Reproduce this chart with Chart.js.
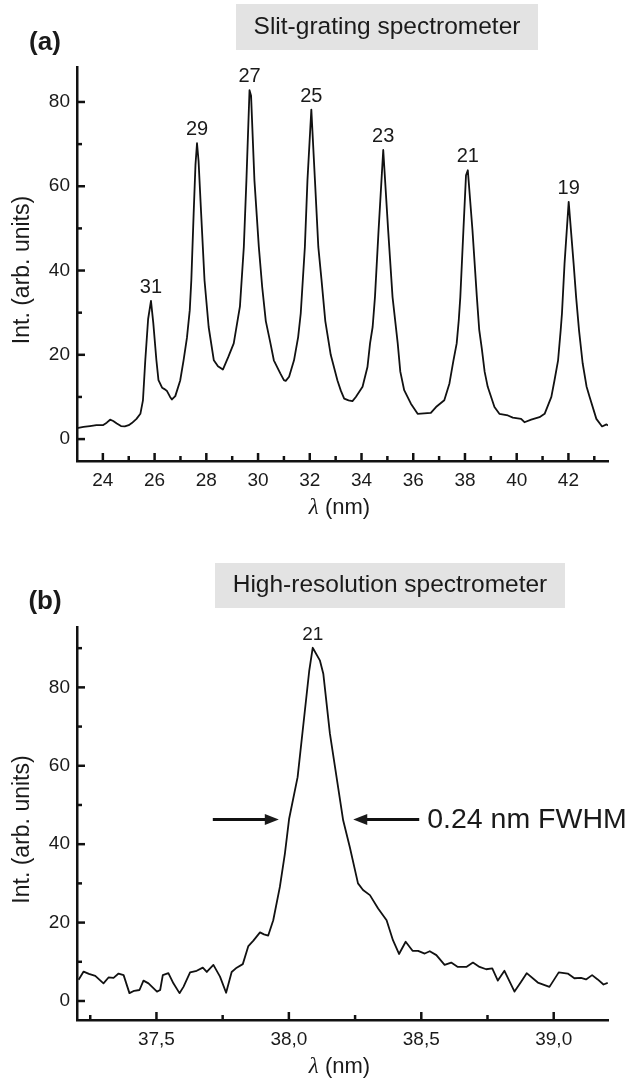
<!DOCTYPE html>
<html>
<head>
<meta charset="utf-8">
<script src="https://cdn.jsdelivr.net/npm/chart.js@4.4.0/dist/chart.umd.min.js"></script>
<style>
  body { margin: 0; background: #fff; width: 639px; height: 1085px; overflow: hidden; }
  .panel { position: absolute; left: 0; width: 639px; }
</style>
</head>
<body>
<div class="panel" style="top:0;height:540px"><canvas id="chartA"></canvas></div>
<div class="panel" style="top:540px;height:545px"><canvas id="chartB"></canvas></div>
<script>
var FONT = "'Liberation Sans', Arial, Helvetica, sans-serif";
Chart.defaults.font.family = FONT;
Chart.defaults.color = '#1a1a1a';

// (a) slit-grating spectrometer
var lambdaA = [23.0, 23.25, 23.5, 23.75, 24.0, 24.15, 24.28, 24.4, 24.54, 24.7, 24.85, 25.0, 25.12, 25.3, 25.45,
  25.55, 25.64, 25.75, 25.86, 25.95, 26.07, 26.15, 26.29, 26.4, 26.48, 26.6, 26.67, 26.8, 26.99, 27.12,
  27.25, 27.36, 27.42, 27.51, 27.58, 27.64, 27.7, 27.8, 27.93, 28.09, 28.29, 28.45, 28.64, 28.85, 29.06,
  29.22, 29.3, 29.45, 29.55, 29.67, 29.73, 29.86, 30.03, 30.16, 30.3, 30.48, 30.61, 30.86, 31.0, 31.07,
  31.2, 31.39, 31.55, 31.65, 31.81, 31.91, 32.06, 32.2, 32.33, 32.45, 32.6, 32.81, 33.07, 33.2, 33.33,
  33.5, 33.65, 33.78, 34.04, 34.23, 34.33, 34.43, 34.52, 34.66, 34.84, 35.03, 35.2, 35.4, 35.5, 35.65,
  35.91, 36.17, 36.42, 36.68, 36.88, 37.2, 37.4, 37.55, 37.68, 37.76, 37.82, 37.94, 38.04, 38.11, 38.29,
  38.46, 38.55, 38.65, 38.76, 38.88, 39.14, 39.33, 39.66, 39.85, 40.17, 40.3, 40.56, 40.88, 41.08, 41.34,
  41.46, 41.6, 41.7, 41.75, 41.85, 42.01, 42.2, 42.3, 42.41, 42.55, 42.7, 42.82, 43.08, 43.3, 43.47, 43.53];
var intA = [2.6, 2.9, 3.1, 3.3, 3.3, 3.9, 4.6, 4.3, 3.7, 3.1, 3.0, 3.3, 3.8, 4.8, 6.0,
  9.2, 18.7, 28.5, 32.8, 27.5, 18.7, 14.0, 12.2, 11.8, 11.4, 10.0, 9.4, 10.2, 13.9, 18.7,
  24.0, 30.6, 37.7, 53.5, 65.0, 70.2, 66.0, 53.5, 37.7, 26.6, 18.7, 17.3, 16.5, 19.5, 22.7,
  28.6, 31.5, 45.6, 61.4, 82.8, 81.5, 61.4, 45.6, 36.1, 28.0, 22.7, 18.7, 15.6, 14.0, 13.8,
  14.8, 18.7, 24.2, 29.8, 45.6, 61.4, 78.2, 61.4, 45.6, 38.0, 28.0, 20.0, 13.9, 11.5, 9.6,
  9.2, 9.0, 10.0, 12.4, 17.1, 22.7, 26.6, 33.7, 49.6, 68.6, 49.6, 33.7, 22.7, 16.0, 11.6,
  8.4, 6.0, 6.1, 6.2, 7.6, 9.2, 13.2, 18.5, 22.7, 28.2, 33.7, 49.6, 62.6, 63.8, 49.6,
  33.7, 26.0, 21.5, 16.0, 12.4, 7.6, 6.0, 5.6, 5.1, 4.8, 4.0, 4.6, 5.2, 6.0, 10.0,
  13.9, 18.7, 25.8, 29.8, 41.7, 56.3, 41.7, 33.5, 25.8, 18.0, 12.5, 10.0, 4.8, 3.0, 3.5, 3.2];
var xTicksA = [24, 26, 28, 30, 32, 34, 36, 38, 40, 42];
var xMinorA = [25, 27, 29, 31, 33, 35, 37, 39, 41, 43];
var yTicksA = [0, 20, 40, 60, 80];
var yMinorA = [10, 30, 50, 70];
var ordersA = ['31', '29', '27', '25', '23', '21', '19'];
var orderPosA = [25.86, 27.64, 29.67, 32.06, 34.84, 38.11, 42.01];

// (b) high-resolution spectrometer
var lambdaB = [37.206, 37.225, 37.245, 37.269, 37.300, 37.319, 37.338, 37.357, 37.376, 37.398, 37.416, 37.436,
  37.451, 37.470, 37.502, 37.514, 37.524, 37.545, 37.564, 37.587, 37.602, 37.627, 37.652, 37.675, 37.690,
  37.715, 37.740, 37.763, 37.784, 37.803, 37.826, 37.847, 37.866, 37.891, 37.906, 37.922, 37.941, 37.966,
  37.985, 38.001, 38.033, 38.077, 38.090, 38.117, 38.130, 38.155, 38.205, 38.230, 38.261, 38.280, 38.306,
  38.337, 38.369, 38.393, 38.416, 38.441, 38.467, 38.488, 38.513, 38.532, 38.557, 38.588, 38.613, 38.638,
  38.670, 38.695, 38.720, 38.745, 38.768, 38.789, 38.814, 38.852, 38.877, 38.898, 38.940, 38.984, 39.019,
  39.053, 39.078, 39.103, 39.122, 39.145, 39.166, 39.188, 39.204];
var intB = [5.4, 7.5, 6.9, 6.4, 4.5, 6.0, 5.9, 7.0, 6.6, 2.0, 2.6, 2.8,
  5.2, 4.5, 2.4, 2.8, 6.6, 7.1, 4.5, 2.0, 3.6, 7.3, 7.7, 8.5, 7.4,
  9.2, 6.2, 2.1, 7.4, 8.5, 9.4, 14.0, 15.4, 17.5, 17.0, 16.7, 20.6, 29.1,
  37.6, 46.5, 57.1, 84.3, 90.1, 86.9, 83.5, 68.2, 46.1, 39.3, 30.0, 28.3, 27.0,
  23.6, 20.6, 15.5, 12.0, 15.1, 12.8, 12.8, 12.1, 12.7, 11.7, 9.2, 9.8, 8.7,
  8.7, 9.8, 8.7, 8.1, 8.3, 5.2, 7.7, 2.4, 4.9, 7.1, 4.7, 3.6, 7.3,
  7.0, 5.8, 5.9, 5.5, 6.6, 5.5, 4.2, 4.6];
var xTicksB = [37.5, 38.0, 38.5, 39.0];
var xMinorB = [37.25, 37.75, 38.25, 38.75];
var yTicksB = [0, 20, 40, 60, 80];
var yMinorB = [10, 30, 50, 70, 90];
var ordersB = ['21'];
var orderPosB = [38.09];
var fwhmLabel = '0.24 nm FWHM';
var fwhmTips = [37.962, 38.243];
var fwhmLevel = 46.3;

function toPoints(xs, ys) {
  return xs.map(function (x, i) { return { x: x, y: ys[i] }; });
}

// inward ticks, panel title box, letters, axis titles, order labels
var decor = {
  id: 'decor',
  afterDraw: function (chart, args, o) {
    var ctx = chart.ctx, a = chart.chartArea, xs = chart.scales.x, ys = chart.scales.y;
    var data = chart.data.datasets[0].data;
    ctx.save();
    ctx.strokeStyle = '#111';
    ctx.lineWidth = 2.5;
    function xt(v, len) {
      var p = xs.getPixelForValue(v);
      ctx.beginPath(); ctx.moveTo(p, a.bottom); ctx.lineTo(p, a.bottom - len); ctx.stroke();
    }
    function yt(v, len) {
      var p = ys.getPixelForValue(v);
      ctx.beginPath(); ctx.moveTo(a.left, p); ctx.lineTo(a.left + len, p); ctx.stroke();
    }
    o.xMajor.forEach(function (v) { xt(v, 8); });
    o.xMinor.forEach(function (v) { xt(v, 5); });
    o.yMajor.forEach(function (v) { yt(v, 8); });
    o.yMinor.forEach(function (v) { yt(v, 5); });

    // title box
    ctx.fillStyle = '#e3e3e3';
    ctx.fillRect(o.box[0], o.box[1], o.box[2], o.box[3]);
    ctx.fillStyle = '#1a1a1a';
    ctx.font = '24.5px ' + FONT;
    ctx.textAlign = 'center';
    ctx.textBaseline = 'middle';
    ctx.fillText(o.title, o.box[0] + o.box[2] / 2, o.box[1] + o.box[3] / 2);

    // panel letter
    ctx.font = 'bold 26px ' + FONT;
    ctx.fillText(o.letter, 45, o.letterY);

    // order labels above peaks
    ctx.font = o.orderSize + 'px ' + FONT;
    ctx.textBaseline = 'alphabetic';
    o.orders.forEach(function (t, i) {
      var best = data[0];
      data.forEach(function (d) { if (Math.abs(d.x - o.orderPos[i]) < Math.abs(best.x - o.orderPos[i])) best = d; });
      ctx.fillText(t, xs.getPixelForValue(best.x), ys.getPixelForValue(best.y) - 8);
    });

    // y axis title
    ctx.save();
    ctx.translate(23, (a.top + a.bottom) / 2 + 6);
    ctx.rotate(-Math.PI / 2);
    ctx.font = '23px ' + FONT;
    ctx.textBaseline = 'middle';
    ctx.fillText('Int. (arb. units)', 0, 0);
    ctx.restore();

    // x axis title: italic lambda + (nm)
    var lam = '\u03bb', rest = ' (nm)';
    ctx.font = 'italic 23px "Liberation Serif", "Times New Roman", serif';
    var w1 = ctx.measureText(lam).width;
    ctx.font = '22px ' + FONT;
    var w2 = ctx.measureText(rest).width;
    var cx = (a.left + a.right) / 2 - 3, ty = a.bottom + 47;
    ctx.textAlign = 'left';
    ctx.textBaseline = 'middle';
    ctx.font = 'italic 23px "Liberation Serif", "Times New Roman", serif';
    ctx.fillText(lam, cx - (w1 + w2) / 2, ty);
    ctx.font = '22px ' + FONT;
    ctx.fillText(rest, cx - (w1 + w2) / 2 + w1, ty);

    // FWHM arrows
    if (o.fwhm) {
      var yy = ys.getPixelForValue(o.fwhm.level);
      var l = xs.getPixelForValue(o.fwhm.tips[0]), r = xs.getPixelForValue(o.fwhm.tips[1]);
      ctx.lineWidth = 3;
      ctx.beginPath(); ctx.moveTo(l - 66, yy); ctx.lineTo(l - 10, yy); ctx.stroke();
      ctx.beginPath(); ctx.moveTo(l, yy); ctx.lineTo(l - 14, yy - 5.5); ctx.lineTo(l - 14, yy + 5.5); ctx.closePath(); ctx.fill();
      ctx.beginPath(); ctx.moveTo(r + 10, yy); ctx.lineTo(r + 66, yy); ctx.stroke();
      ctx.beginPath(); ctx.moveTo(r, yy); ctx.lineTo(r + 14, yy - 5.5); ctx.lineTo(r + 14, yy + 5.5); ctx.closePath(); ctx.fill();
      ctx.font = '28.5px ' + FONT;
      ctx.textAlign = 'left';
      ctx.textBaseline = 'middle';
      ctx.fillText(o.fwhm.text, r + 74, yy + 1);
    }
    ctx.restore();
  }
};

function makeChart(id, pts, cfg) {
  return new Chart(document.getElementById(id), {
    type: 'line',
    data: {
      datasets: [{
        data: pts,
        borderColor: '#111',
        borderWidth: 1.8,
        borderJoinStyle: 'round',
        pointRadius: 0,
        tension: 0,
        fill: false
      }]
    },
    options: {
      responsive: true,
      maintainAspectRatio: false,
      animation: false,
      events: [],
      layout: { padding: { top: cfg.top, right: cfg.right, left: 0, bottom: 0 } },
      plugins: {
        legend: { display: false },
        tooltip: { enabled: false },
        decor: cfg.decor
      },
      scales: {
        x: {
          type: 'linear',
          min: cfg.xMin,
          max: cfg.xMax,
          afterBuildTicks: function (s) { s.ticks = cfg.xTicks.map(function (v) { return { value: v }; }); },
          afterFit: function (s) { s.height = cfg.xHeight; },
          ticks: { font: { size: 19 }, padding: 8, maxRotation: 0, autoSkip: false, color: '#1a1a1a', callback: cfg.xFmt },
          grid: { drawOnChartArea: false, drawTicks: false },
          border: { display: true, width: 2.5, color: '#111' }
        },
        y: {
          type: 'linear',
          min: cfg.yMin,
          max: cfg.yMax,
          afterBuildTicks: function (s) { s.ticks = cfg.yTicks.map(function (v) { return { value: v }; }); },
          afterFit: function (s) { s.width = 77; },
          ticks: { font: { size: 19 }, padding: 7, color: '#1a1a1a' },
          grid: { drawOnChartArea: false, drawTicks: false },
          border: { display: true, width: 2.5, color: '#111' }
        }
      }
    },
    plugins: [decor]
  });
}

makeChart('chartA', toPoints(lambdaA, intA), {
  top: 67, right: 31, xHeight: 79,
  xMin: 23, xMax: 43.53, yMin: -5.2, yMax: 88.3,
  xTicks: xTicksA, yTicks: yTicksA,
  xFmt: function (v) { return String(v); },
  decor: {
    xMajor: xTicksA, xMinor: xMinorA, yMajor: yTicksA, yMinor: yMinorA,
    box: [236, 4, 302, 46], title: 'Slit-grating spectrometer',
    letter: '(a)', letterY: 43,
    orders: ordersA, orderPos: orderPosA, orderSize: 20
  }
});

makeChart('chartB', toPoints(lambdaB, intB), {
  top: 87, right: 31, xHeight: 65,
  xMin: 37.2, xMax: 39.205, yMin: -4.85, yMax: 95.4,
  xTicks: xTicksB, yTicks: yTicksB,
  xFmt: function (v) { return v.toFixed(1).replace('.', ','); },
  decor: {
    xMajor: xTicksB, xMinor: xMinorB, yMajor: yTicksB, yMinor: yMinorB,
    box: [215, 23, 350, 45], title: 'High-resolution spectrometer',
    letter: '(b)', letterY: 62,
    orders: ordersB, orderPos: orderPosB, orderSize: 19,
    fwhm: { level: fwhmLevel, tips: fwhmTips, text: fwhmLabel }
  }
});
</script>
</body>
</html>
